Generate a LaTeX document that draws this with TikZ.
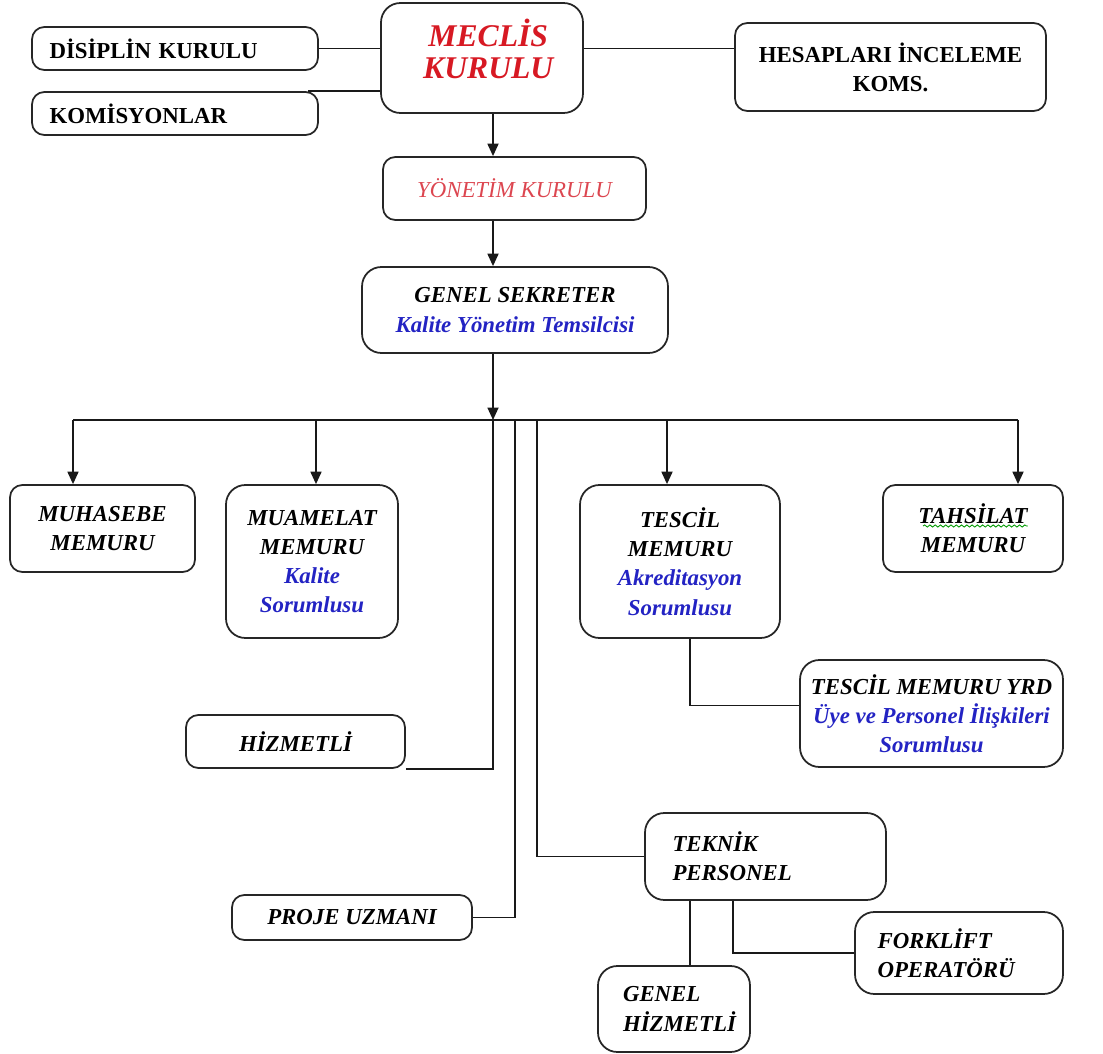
\documentclass[tikz,border=0pt]{standalone}
\usepackage{fontspec}
\setmainfont{Liberation Serif}
\usetikzlibrary{arrows.meta,decorations.pathmorphing}
\definecolor{kirmizi}{RGB}{215,25,35}
\definecolor{acikkirmizi}{RGB}{220,70,80}
\definecolor{mavi}{RGB}{35,35,195}
\tikzset{
  kutu/.style={draw=black!85, line width=1pt, rounded corners=7pt, align=center,
    font=\fontsize{13}{16.6}\selectfont\bfseries\itshape},
  buyuk/.style={kutu, rounded corners=11pt},
  solda/.style={align=left, inner xsep=#1},
  duz/.style={font=\fontsize{13}{16.6}\selectfont\bfseries},
  hat/.style={line width=1pt, black!90},
  ok/.style={hat, -{Triangle[length=2.5mm,width=2.2mm]}}
}
\begin{document}
\begin{tikzpicture}[x=0.02cm,y=-0.02cm]
\useasboundingbox (0,0) rectangle (1103,1054);
% ust kurullar
\node[buyuk, minimum width=4.04cm, minimum height=2.2cm, text depth=0.36cm, font=\fontsize{18}{18.5}\selectfont\bfseries\itshape, text=kirmizi] (meclis) at (482,58) {\hspace*{0.25cm}MECLİS\\\hspace*{0.25cm}KURULU};
\node[kutu, duz, solda=0.35cm, text width=5.02cm, minimum height=0.86cm] (disiplin) at (175,48.5) {DİSİPLİN KURULU};
\node[kutu, duz, solda=0.35cm, text width=5.02cm, minimum height=0.86cm] (komisyon) at (175,113.5) {KOMİSYONLAR};
\node[kutu, duz, minimum width=6.22cm, minimum height=1.76cm] (hesap) at (890.5,67) {HESAPLARI İNCELEME\\KOMS.};
\node[kutu, minimum width=5.26cm, minimum height=1.26cm, font=\fontsize{13}{16.6}\selectfont\itshape, text=acikkirmizi] (yonetim) at (514.5,188.5) {YÖNETİM KURULU};
\node[buyuk, minimum width=6.12cm, minimum height=1.72cm] (genel) at (515,310) {GENEL SEKRETER\\{\color{mavi}Kalite Yönetim Temsilcisi}};
% memurlar
\node[kutu, minimum width=3.7cm, minimum height=1.74cm] (muhasebe) at (102.5,528.5) {MUHASEBE\\MEMURU};
\node[buyuk, minimum width=3.44cm, minimum height=3.06cm] (muamelat) at (312,561.5) {MUAMELAT\\MEMURU\\{\color{mavi}Kalite}\\{\color{mavi}Sorumlusu}};
\node[buyuk, minimum width=4cm, minimum height=3.06cm] (tescil) at (680,561.5) {TESCİL\\MEMURU\\{\color{mavi}Akreditasyon}\\{\color{mavi}Sorumlusu}};
\node[kutu, minimum width=3.6cm, minimum height=1.74cm] (tahsilat) at (973,528.5) {TAHSİLAT\\MEMURU};
\node[buyuk, minimum width=5.26cm, minimum height=2.14cm] (yrd) at (931.5,713.5) {TESCİL MEMURU YRD\\{\color{mavi}Üye ve Personel İlişkileri}\\{\color{mavi}Sorumlusu}};
\node[kutu, minimum width=4.38cm, minimum height=1.06cm] (hizmetli) at (295.5,741.5) {HİZMETLİ};
\node[kutu, minimum width=4.8cm, minimum height=0.9cm] (proje) at (352,917.5) {PROJE UZMANI};
\node[buyuk, solda=0.55cm, text width=3.72cm, minimum height=1.74cm] (teknik) at (765.5,856.5) {TEKNİK\\PERSONEL};
\node[buyuk, solda=0.45cm, text width=3.26cm, minimum height=1.64cm] (forklift) at (959,953) {FORKLİFT\\OPERATÖRÜ};
\node[buyuk, solda=0.5cm, text width=2.04cm, minimum height=1.72cm] (genelhiz) at (674,1009) {GENEL\\HİZMETLİ};
% imla isareti
\draw[green!60!black, line width=0.5pt, decorate, decoration={snake, amplitude=0.6pt, segment length=3pt}] ([xshift=-1.0cm,yshift=0.05cm]tahsilat.center) -- ([xshift=1.1cm,yshift=0.05cm]tahsilat.center);
% baglantilar
\coordinate (bus) at (493,420);
\coordinate (sol) at (73,420);
\coordinate (sag) at (1018,420);
\coordinate (p2) at (515,420);
\coordinate (p3) at (537,420);
\draw[hat] (disiplin.east) -- (disiplin.east -| meclis.west);
\draw[hat] ([xshift=-6pt]komisyon.north east) -- (komisyon.north east -| meclis.west);
\draw[hat] (meclis.east |- disiplin.east) -- (hesap.west |- disiplin.east);
\draw[ok] (meclis.south -| bus) -- (yonetim.north -| bus);
\draw[ok] (yonetim.south -| bus) -- (genel.north -| bus);
\draw[ok] (genel.south -| bus) -- (bus);
\draw[hat] (sol) -- (sag);
\foreach \k/\x in {muhasebe/73,muamelat/316,tescil/667,tahsilat/1018}
  \draw[ok] (\x,420) -- (\x,0 |- \k.north);
\draw[hat] ([xshift=0.2cm]tescil.south) |- ([yshift=0.16cm]yrd.west);
\draw[hat] (bus) |- (hizmetli.south east);
\draw[hat] (p2) |- (proje.east);
\draw[hat] (p3) |- (teknik.west);
\draw[hat] ([xshift=0.32cm]genelhiz.north) -- ([xshift=0.32cm]genelhiz.north |- teknik.south);
\draw[hat] ([xshift=-0.65cm]teknik.south) |- (forklift.west);
\end{tikzpicture}
\end{document}
